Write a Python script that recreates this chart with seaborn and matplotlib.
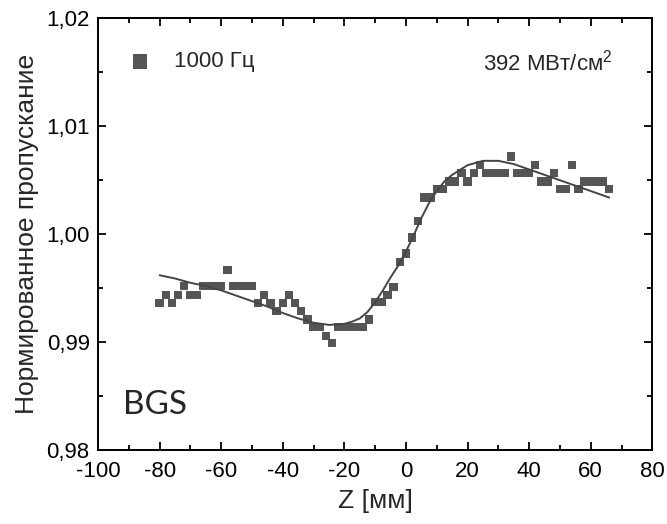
import numpy as np
import pandas as pd
import matplotlib
matplotlib.use("Agg")
import matplotlib.pyplot as plt
import seaborn as sns
from matplotlib.ticker import MultipleLocator

# measured points (Z in mm, normalized transmittance)
z_mm = [-80, -78, -76, -74, -72, -70, -68, -66, -64, -62, -60, -58, -56, -54, -52, -50,
        -48, -46, -44, -42, -40, -38, -36, -34, -32, -30, -28, -26, -24, -22, -20, -18,
        -16, -14, -12, -10, -8, -6, -4, -2, 0, 2, 4, 6, 8, 10, 12, 14, 16, 18, 20, 22,
        24, 26, 28, 30, 32, 34, 36, 38, 40, 42, 44, 46, 48, 50, 52, 54, 56, 58, 60, 62,
        64, 66]
transm = [0.9936, 0.9944, 0.9936, 0.9944, 0.9952, 0.9944, 0.9944, 0.9952, 0.9952, 0.9952,
          0.9952, 0.9967, 0.9952, 0.9952, 0.9952, 0.9952, 0.9936, 0.9944, 0.9936, 0.9929,
          0.9936, 0.9944, 0.9936, 0.9929, 0.9921, 0.9914, 0.9914, 0.9906, 0.9899, 0.9914,
          0.9914, 0.9914, 0.9914, 0.9914, 0.9921, 0.9937, 0.9937, 0.9944, 0.9951, 0.9974,
          0.9982, 0.9997, 1.0012, 1.0034, 1.0034, 1.0042, 1.0042, 1.0049, 1.0049, 1.0057,
          1.0049, 1.0057, 1.0064, 1.0057, 1.0057, 1.0057, 1.0057, 1.0072, 1.0057, 1.0057,
          1.0057, 1.0064, 1.0049, 1.0049, 1.0057, 1.0042, 1.0042, 1.0064, 1.0042, 1.0049,
          1.0049, 1.0049, 1.0049, 1.0042]

# fitted curve
fit_z = [-80, -75, -70, -65, -60, -55, -50, -45, -40, -35, -30, -25, -20, -17.5, -15,
         -12.5, -10, -7.5, -5, -2.5, 0, 2.5, 5, 7.5, 10, 12.5, 15, 20, 25, 30, 35, 40,
         45, 50, 55, 60, 66]
fit_t = [0.9962, 0.9959, 0.9955, 0.9952, 0.9948, 0.9943, 0.9938, 0.9933, 0.9927, 0.9922,
         0.9918, 0.9916, 0.9917, 0.9919, 0.9922, 0.9928, 0.9937, 0.9948, 0.9960, 0.9971,
         0.9984, 0.9999, 1.0015, 1.0029, 1.0040, 1.0049, 1.0055, 1.0064, 1.0068, 1.0068,
         1.0065, 1.0060, 1.0055, 1.0050, 1.0045, 1.0040, 1.0034]

ytick_vals = [0.98, 0.99, 1.00, 1.01, 1.02]
ytick_labels = ["0,98", "0,99", "1,00", "1,01", "1,02"]
xtick_vals = [-100, -80, -60, -40, -20, 0, 20, 40, 60, 80]

df = pd.DataFrame({"z": z_mm, "t": transm})
fit = pd.DataFrame({"z": fit_z, "t": fit_t})

sns.set_style("ticks")
plt.rcParams['font.family'] = ['Liberation Sans', 'DejaVu Sans']
plt.rcParams['mathtext.fontset'] = 'custom'
plt.rcParams['mathtext.rm'] = 'Liberation Sans'

fig = plt.figure(figsize=(6.67, 5.24), dpi=100)
ax = fig.add_axes([0.147, 0.141, 0.831, 0.824])

sns.lineplot(x="z", y="t", data=fit, sort=False, estimator=None,
             color="#454545", linewidth=1.4, ax=ax)
sns.scatterplot(x="z", y="t", data=df, marker="s", s=36, color="#555555",
                edgecolor="none", linewidth=0, label="1000 Гц", ax=ax)

ax.set_xlim(-100, 80)
ax.set_ylim(0.98, 1.02)
ax.set_xticks(xtick_vals)
ax.set_xticklabels([str(v) for v in xtick_vals])
ax.set_yticks(ytick_vals)
ax.set_yticklabels(ytick_labels)
ax.xaxis.set_minor_locator(MultipleLocator(10))
ax.yaxis.set_minor_locator(MultipleLocator(0.005))
ax.tick_params(which="both", direction="in", top=True, right=True,
               labelsize=16, width=1.3, colors="black")
ax.tick_params(which="major", length=5.8)
ax.tick_params(axis="x", which="major", pad=8)
ax.tick_params(axis="y", which="major", pad=6)
ax.tick_params(which="minor", length=3.5)
for sp in ax.spines.values():
    sp.set_linewidth(1.4)
    sp.set_color("black")

ax.set_xlabel("Z [мм]", fontsize=19, labelpad=5)
ax.set_ylabel("Нормированное пропускание", fontsize=19, labelpad=5)

leg = ax.legend(loc="upper left", bbox_to_anchor=(0.0, 0.97), frameon=False,
                fontsize=16, handletextpad=0.5, markerscale=1.7)

ax.text(0.928, 0.898, "392 МВт/см$^2$", transform=ax.transAxes, ha="right",
        va="center", fontsize=16)
ax.text(0.045, 0.104, "BGS", transform=ax.transAxes, ha="left", va="center",
        fontsize=24, family=["Lato", "DejaVu Sans"])

fig.savefig("out.png", dpi=100)
